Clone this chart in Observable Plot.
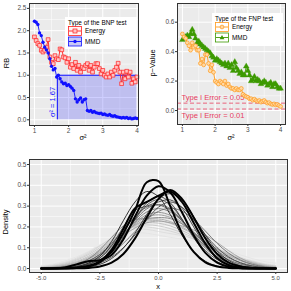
<!DOCTYPE html>
<html><head><meta charset="utf-8">
<script src="https://cdn.jsdelivr.net/npm/d3@7"></script>
<script src="https://cdn.jsdelivr.net/npm/@observablehq/plot@0.6"></script>
<style>
html,body{margin:0;padding:0;background:#fff;}
#wrap{position:relative;width:291px;height:291px;overflow:hidden;font-family:"Liberation Sans",Arial,sans-serif;}
.lbl{position:absolute;font-size:7.5px;color:#000;white-space:nowrap;line-height:1;}
.rot{transform:translate(-50%,-50%) rotate(-90deg);}
.ctr{transform:translate(-50%,-50%);}
.leg{position:absolute;background:#fff;font-size:6.4px;color:#000;}
.leg div{position:absolute;white-space:nowrap;}
</style></head>
<body><div id="wrap"></div>
<script>
// ---------- data ----------
const sigma2 = [1.00,1.05,1.10,1.15,1.20,1.25,1.30,1.35,1.40,1.45,1.50,1.55,1.60,1.65,1.70,1.75,1.80,1.85,1.90,1.95,
2.00,2.05,2.10,2.15,2.20,2.25,2.30,2.35,2.40,2.45,2.50,2.55,2.60,2.65,2.70,2.75,2.80,2.85,2.90,2.95,
3.00,3.05,3.10,3.15,3.20,3.25,3.30,3.35,3.40,3.45,3.50,3.55,3.60,3.65,3.70,3.75,3.80,3.85,3.90,3.95,4.00];
const rbEnergy = [1.86,1.78,1.71,1.67,1.56,1.52,1.56,1.63,1.80,1.41,1.29,1.26,1.44,1.37,1.35,1.59,1.57,1.41,1.39,1.29,
1.37,1.18,1.24,1.15,1.29,1.11,1.22,1.07,1.18,1.15,1.22,1.26,1.11,1.22,1.07,1.18,1.26,1.26,1.15,1.03,
1.11,1.00,0.96,1.03,0.96,1.07,1.00,1.11,1.18,1.27,1.07,0.81,1.07,0.92,1.09,0.96,1.07,0.82,0.92,0.85,0.96];
const rbMMD = [2.21,2.19,2.14,1.95,1.89,1.74,1.63,1.57,1.50,1.37,1.20,1.12,1.15,0.96,1.00,0.92,0.85,0.81,0.82,0.77,
0.79,0.75,0.71,0.66,0.47,0.40,0.45,0.49,0.40,0.45,0.47,0.21,0.19,0.21,0.17,0.19,0.16,0.15,0.14,0.15,
0.12,0.13,0.11,0.10,0.12,0.09,0.08,0.09,0.07,0.06,0.05,0.04,0.05,0.04,0.05,0.03,0.04,0.02,0.03,0.04,0.03];
const sigmaThreshold = 1.67;
const pEnergy = [0.52,0.50,0.49,0.46,0.44,0.41,0.46,0.43,0.44,0.41,0.41,0.32,0.35,0.31,0.38,0.38,0.32,0.27,0.31,0.26,
0.20,0.19,0.18,0.20,0.19,0.18,0.20,0.17,0.18,0.16,0.15,0.15,0.14,0.15,0.14,0.14,0.15,0.11,0.10,0.095,
0.09,0.08,0.08,0.07,0.077,0.068,0.063,0.068,0.057,0.063,0.068,0.057,0.05,0.054,0.045,0.041,0.045,0.038,0.041,0.034,0.027];
const pMMD = [0.48,0.49,0.50,0.51,0.50,0.52,0.55,0.52,0.49,0.46,0.47,0.45,0.44,0.43,0.42,0.41,0.40,0.39,0.37,0.36,
0.34,0.35,0.34,0.33,0.32,0.31,0.32,0.30,0.32,0.29,0.31,0.27,0.33,0.29,0.27,0.25,0.26,0.24,0.24,0.30,
0.27,0.24,0.20,0.21,0.23,0.20,0.21,0.20,0.18,0.19,0.20,0.19,0.17,0.18,0.19,0.16,0.18,0.18,0.16,0.15,0.15];
const typeIErrors = [0.05, 0.01];

const xGrid = [-5,-4.5,-4,-3.5,-3,-2.5,-2,-1.5,-1,-0.5,0,0.5,1,1.5,2,2.5,3,3.5,4,4.5,5];
const grayCurves = [
 [.015,.025,.040,.060,.085,.115,.145,.165,.175,.172,.165,.160,.150,.135,.118,.098,.078,.060,.045,.035,.030],
 [.012,.022,.036,.056,.082,.112,.140,.162,.172,.170,.160,.150,.142,.132,.120,.104,.085,.065,.048,.034,.025],
 [.010,.018,.030,.050,.078,.110,.145,.175,.190,.188,.178,.168,.158,.142,.122,.098,.075,.054,.037,.024,.016],
 [.008,.015,.026,.045,.072,.108,.148,.180,.198,.200,.192,.180,.163,.142,.118,.092,.068,.047,.030,.018,.011],
 [.006,.012,.022,.040,.066,.100,.140,.178,.202,.210,.205,.192,.172,.148,.122,.096,.071,.050,.033,.020,.012],
 [.005,.010,.019,.034,.058,.092,.134,.176,.206,.220,.218,.205,.183,.155,.125,.095,.068,.046,.029,.017,.009],
 [.004,.008,.016,.030,.052,.085,.128,.172,.208,.228,.230,.218,.194,.163,.128,.094,.064,.041,.025,.014,.007],
 [.003,.006,.013,.026,.047,.080,.124,.170,.210,.234,.238,.226,.200,.166,.128,.091,.060,.037,.021,.011,.005],
 [.003,.006,.012,.024,.044,.075,.115,.158,.195,.220,.228,.220,.205,.185,.160,.125,.085,.050,.026,.012,.005],
 [.002,.005,.010,.020,.038,.068,.112,.164,.214,.248,.258,.246,.215,.172,.126,.085,.052,.029,.015,.007,.003],
 [.002,.004,.009,.018,.036,.066,.110,.165,.220,.258,.270,.256,.222,.175,.126,.083,.050,.027,.013,.006,.002],
 [.002,.004,.009,.020,.045,.090,.150,.205,.235,.240,.245,.240,.215,.170,.120,.075,.042,.021,.010,.004,.002],
 [.001,.003,.007,.015,.031,.060,.104,.163,.225,.272,.288,.272,.230,.174,.118,.073,.041,.021,.010,.004,.002],
 [.001,.002,.005,.010,.021,.041,.074,.121,.178,.235,.275,.290,.276,.236,.180,.121,.073,.040,.020,.009,.004],
 [.001,.002,.005,.012,.026,.053,.098,.162,.232,.287,.308,.287,.232,.160,.098,.053,.025,.011,.004,.002,.001],
 [.001,.003,.007,.016,.035,.068,.120,.185,.250,.295,.305,.280,.230,.165,.105,.058,.028,.012,.005,.002,.001],
 [.000,.001,.003,.008,.019,.043,.087,.154,.236,.305,.332,.305,.236,.154,.087,.043,.019,.008,.003,.001,.000],
 [.000,.001,.002,.005,.012,.027,.055,.100,.162,.235,.295,.320,.295,.235,.162,.100,.055,.027,.012,.005,.002],
 [.000,.001,.003,.008,.020,.050,.110,.200,.280,.300,.320,.330,.290,.200,.110,.050,.020,.008,.003,.001,.000],
 [.000,.001,.002,.005,.013,.033,.076,.148,.238,.316,.347,.316,.238,.148,.076,.033,.012,.004,.001,.000,.000],
 [.000,.000,.001,.003,.008,.020,.048,.098,.170,.260,.335,.360,.330,.250,.160,.085,.038,.014,.005,.001,.000],
 [.000,.001,.003,.009,.025,.060,.130,.230,.320,.370,.345,.260,.160,.082,.035,.012,.004,.001,.000,.000,.000]
];
const grayColors = ["#ececec","#e4e4e4","#dcdcdc","#d2d2d2","#c8c8c8","#bebebe","#b4b4b4","#aaaaaa","#a0a0a0","#969696","#8c8c8c",
"#828282","#787878","#6e6e6e","#646464","#5a5a5a","#505050","#464646","#3c3c3c","#323232","#282828","#1e1e1e"];
const blackCurves = [
 [.000,.000,.001,.003,.010,.030,.080,.170,.280,.415,.420,.300,.170,.080,.030,.010,.003,.001,.000,.000,.000],
 [.000,.000,.000,.001,.003,.010,.028,.070,.145,.245,.335,.378,.335,.245,.145,.070,.028,.010,.003,.001,.000],
 [.000,.001,.005,.020,.035,.040,.065,.140,.250,.350,.395,.365,.270,.160,.075,.028,.008,.002,.000,.000,.000],
 [.000,.000,.001,.004,.012,.035,.090,.190,.290,.320,.350,.370,.320,.220,.120,.050,.016,.004,.001,.000,.000]
];

// ticks
const topX = [1,2,3,4], topXMinor = [1.5,2.5,3.5];
const rbTicks = [0,0.5,1,1.5,2,2.5], rbMinor = [0.25,0.75,1.25,1.75,2.25];
const pTicks = [0,0.2,0.4,0.6], pMinor = [0.1,0.3,0.5,0.7];
const dX = [-5,-2.5,0,2.5,5], dXMinor = [-3.75,-1.25,1.25,3.75];
const dY = [0,0.1,0.2,0.3,0.4,0.5], dYMinor = [0.05,0.15,0.25,0.35,0.45];

// ---------- helpers ----------
const FONT = '"Liberation Sans",Arial,sans-serif';
const RED="#ff2020", BLUE="#1010ff", ORANGE="#ff9a1a", GREEN="#3c9a00", ERR="#e8405e";
const f1 = d => d.toFixed(1);
function bg(xMaj,xMin,yMaj,yMin){
  return [
    Plot.frame({fill:"#ebebeb"}),
    Plot.ruleX(xMin,{stroke:"#fff",strokeWidth:0.5}),
    Plot.ruleY(yMin,{stroke:"#fff",strokeWidth:0.5}),
    Plot.ruleX(xMaj,{stroke:"#fff",strokeWidth:1}),
    Plot.ruleY(yMaj,{stroke:"#fff",strokeWidth:1})
  ];
}
function axes(xt,xf,yt,yf,fs){
  fs = fs || 6.5;
  return [
    Plot.axisX({ticks:xt,tickFormat:xf,tickSize:2,tickPadding:1,stroke:"#333",fill:"#4d4d4d",fontSize:fs,label:null}),
    Plot.axisY({ticks:yt,tickFormat:yf,tickSize:2,tickPadding:1,stroke:"#333",fill:"#4d4d4d",fontSize:6.5,label:null}),
    Plot.frame({stroke:"#333",strokeWidth:1})
  ];
}
const style = {background:"transparent",fontFamily:FONT,fontSize:"6.5px",overflow:"visible"};
const wrap = document.getElementById("wrap");
function place(el,l,t){el.style.position="absolute";el.style.left=l+"px";el.style.top=t+"px";wrap.appendChild(el);}

// ---------- top-left ----------
const eRB = sigma2.map((s,i)=>({x:s,y:rbEnergy[i]}));
const mRB = sigma2.map((s,i)=>({x:s,y:rbMMD[i]}));
const area = [{x1:sigmaThreshold,x2:sigma2[sigma2.length-1],y1:0,y2:1}];
const p1 = Plot.plot({
  width:145,height:145,marginLeft:29,marginRight:7,marginTop:3,marginBottom:20,
  x:{domain:[0.855,4.045]}, y:{domain:[-0.128,2.61]}, style,
  marks:[
    ...bg(topX,topXMinor,rbTicks,rbMinor),
    Plot.rect(area,{x1:"x1",x2:"x2",y1:"y1",y2:"y2",fill:BLUE,fillOpacity:0.2}),
    Plot.ruleY(area,{y:"y2",x1:"x1",x2:"x2",stroke:BLUE,strokeWidth:1}),
    Plot.ruleX(area,{x:"x1",y1:"y1",y2:"y2",stroke:BLUE,strokeWidth:1}),
    Plot.text(area,{x:"x1",y:0.4,dx:-5,rotate:-90,text:()=>"σ² = "+sigmaThreshold,fill:BLUE,fontSize:7.5}),
    Plot.line(eRB,{x:"x",y:"y",stroke:RED,strokeWidth:0.9}),
    Plot.dot(eRB,{x:"x",y:"y",symbol:"square",r:2.1,stroke:RED,fill:"#ffc4c4",strokeWidth:0.7}),
    Plot.line(mRB,{x:"x",y:"y",stroke:BLUE,strokeWidth:0.9}),
    Plot.dot(mRB,{x:"x",y:"y",r:1.7,fill:BLUE}),
    ...axes(topX,d=>String(d),rbTicks,f1)
  ]
});
place(p1,0,0);

// ---------- top-right ----------
const eP = sigma2.map((s,i)=>({x:s,y:pEnergy[i]}));
const mP = sigma2.map((s,i)=>({x:s,y:pMMD[i]}));
const errs = typeIErrors.map((e,i)=>({y:e,label:"Type I Error = "+e,dy:i===0?-6:6}));
const p2 = Plot.plot({
  width:146,height:145,marginLeft:32,marginRight:6,marginTop:3,marginBottom:21,
  x:{domain:[0.85,4.15]}, y:{domain:[-0.095,0.727]}, style,
  marks:[
    ...bg(topX,topXMinor,pTicks,pMinor),
    Plot.ruleY(errs,{y:"y",stroke:ERR,strokeWidth:0.8,strokeDasharray:"4,2.5"}),
    Plot.text(errs.slice(0,1),{x:0.97,y:"y",text:"label",textAnchor:"start",fill:ERR,fontSize:7.6,dy:-6}),
    Plot.text(errs.slice(1),{x:0.97,y:"y",text:"label",textAnchor:"start",fill:ERR,fontSize:7.6,dy:7}),
    Plot.line(mP,{x:"x",y:"y",stroke:GREEN,strokeWidth:0.9}),
    Plot.dot(mP,{x:"x",y:"y",symbol:"triangle",r:2.2,fill:GREEN,stroke:GREEN,strokeWidth:0.3}),
    Plot.line(eP,{x:"x",y:"y",stroke:ORANGE,strokeWidth:0.9}),
    Plot.dot(eP,{x:"x",y:"y",r:1.9,stroke:ORANGE,fill:"#ffd9a6",strokeWidth:0.7}),
    ...axes(topX,d=>String(d),pTicks,f1)
  ]
});
place(p2,145,0);

// ---------- bottom ----------
const rowsG = [], rowsB = [];
grayCurves.forEach((c,k)=>c.forEach((v,i)=>rowsG.push({x:xGrid[i],y:v,k,col:grayColors[k]})));
blackCurves.forEach((c,k)=>c.forEach((v,i)=>rowsB.push({x:xGrid[i],y:v,k})));
const p3 = Plot.plot({
  width:291,height:146,marginLeft:29,marginRight:4,marginTop:14,marginBottom:19,
  x:{domain:[-5.5,5.5]}, y:{domain:[-0.019,0.524]}, color:{type:"identity"}, style,
  marks:[
    ...bg(dX,dXMinor,dY,dYMinor),
    Plot.line(rowsG,{x:"x",y:"y",z:"k",stroke:"col",strokeWidth:0.9,curve:"catmull-rom"}),
    Plot.line(rowsB,{x:"x",y:"y",z:"k",stroke:"#000",strokeWidth:2,curve:"catmull-rom"}),
    ...axes(dX,f1,dY,f1,6)
  ]
});
place(p3,0,145);

// ---------- axis titles & legends ----------
function lbl(txt,l,t,rot){const d=document.createElement("div");d.className="lbl "+(rot?"rot":"ctr");d.textContent=txt;d.style.left=l+"px";d.style.top=t+"px";wrap.appendChild(d);}
lbl("RB",7,63,true);
lbl("σ²",83,138,false);
lbl("p−Value",153,63,true);
lbl("σ²",231,138,false);
lbl("Density",6,222,true);
lbl("x",158,286.5,false);

function legend(l,t,w,h,title,items){
  const d=document.createElement("div");d.className="leg";
  d.style.left=l+"px";d.style.top=t+"px";d.style.width=w+"px";d.style.height=h+"px";
  let html=`<div style="left:3px;top:2px">${title}</div>`;
  let svg=`<svg width="16" height="24" style="position:absolute;left:3px;top:9px;overflow:visible">`;
  items.forEach((it,i)=>{
    const y=i*10.5;
    svg+=`<rect x="0.5" y="${y+0.5}" width="13" height="9" fill="${it.keyFill}" stroke="${it.color}" stroke-width="0.8"/>`;
    svg+=`<line x1="1" x2="13" y1="${y+5}" y2="${y+5}" stroke="${it.color}" stroke-width="0.9"/>`;
    if(it.shape==="square") svg+=`<rect x="5" y="${y+3}" width="4" height="4" fill="${it.dotFill}" stroke="${it.color}" stroke-width="0.7"/>`;
    if(it.shape==="circle") svg+=`<circle cx="7" cy="${y+5}" r="1.9" fill="${it.dotFill}" stroke="${it.color}" stroke-width="0.7"/>`;
    if(it.shape==="dot") svg+=`<circle cx="7" cy="${y+5}" r="1.7" fill="${it.color}"/>`;
    if(it.shape==="tri") svg+=`<path d="M7,${y+2.6}L9.4,${y+6.8}L4.6,${y+6.8}Z" fill="${it.color}"/>`;
    html+=`<div style="left:20px;top:${9+y+1.2}px">${it.label}</div>`;
  });
  svg+=`</svg>`;
  d.innerHTML=html+svg;wrap.appendChild(d);
}
legend(65,17,72,32,"Type of the BNP test",[
  {label:"Energy",color:RED,keyFill:"#fff4f4",dotFill:"#ffc4c4",shape:"square"},
  {label:"MMD",color:BLUE,keyFill:"#c8c8f6",shape:"dot"}]);
legend(212,13,71,33,"Type of the FNP test",[
  {label:"Energy",color:ORANGE,keyFill:"#fff",dotFill:"#ffd9a6",shape:"circle"},
  {label:"MMD",color:GREEN,keyFill:"#fff",shape:"tri"}]);
</script></body></html>
